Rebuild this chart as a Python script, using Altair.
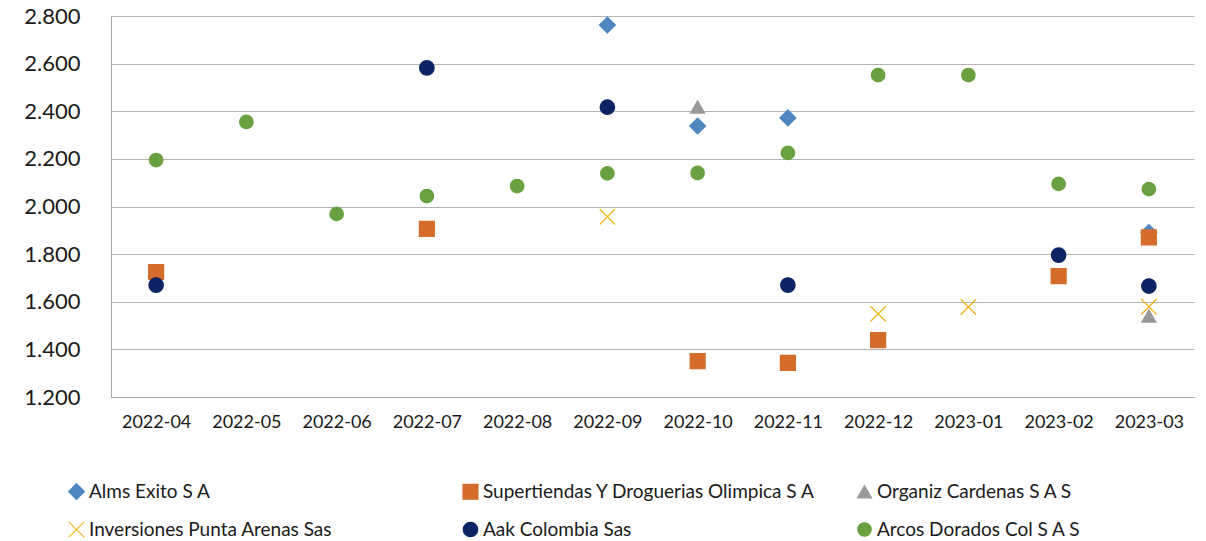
import altair as alt
import pandas as pd

months = ["2022-04", "2022-05", "2022-06", "2022-07", "2022-08", "2022-09",
          "2022-10", "2022-11", "2022-12", "2023-01", "2023-02", "2023-03"]

series_names = ["Alms Exito S A", "Supertiendas Y Droguerias Olimpica S A",
                "Organiz Cardenas S A S", "Inversiones Punta Arenas Sas",
                "Aak Colombia Sas", "Arcos Dorados Col S A S"]

alms = [None, None, None, None, None, 2762, 2338, 2372, None, None, None, 1891]
super_olimpica = [1725, None, None, 1906, None, None, 1351, 1343, 1439, None, 1708, 1870]
organiz = [None, None, None, None, None, None, 2418, None, None, None, None, 1540]
inversiones = [None, None, None, None, None, 1957, None, None, 1549, 1578, None, 1579]
aak = [1670, None, None, 2582, None, 2417, None, 1670, None, None, 1796, 1666]
arcos = [2195, 2355, 1969, 2044, 2086, 2139, 2141, 2225, 2552, 2552, 2095, 2073]

colors = ["#4E87C0", "#D46D2B", "#999999", "#F0B41C", "#0C2463", "#69A040"]
shapes = ["diamond", "square", "triangle-up", "M-1,-1L1,1M1,-1L-1,1", "circle", "circle"]
sizes = [250, 170, 196, 180, 215, 128]

rows = []
for name, vals in zip(series_names, [alms, super_olimpica, organiz, inversiones, aak, arcos]):
    for m, v in zip(months, vals):
        if v is not None:
            rows.append({"month": m, "value": v, "series": name})
df = pd.DataFrame(rows)
df["order"] = range(len(df))

# legend fills column by column (2 rows x 3 columns)
legend_order = [0, 3, 1, 4, 2, 5]
dom = [series_names[i] for i in legend_order]
col_rng = [colors[i] for i in legend_order]
shp_rng = [shapes[i] for i in legend_order]
size_rng = [sizes[i] for i in legend_order]

font = "Lato"
cscale = alt.Scale(domain=dom, range=col_rng)


def make_legend():
    return alt.Legend(title=None, orient="none", legendX=-44, legendY=466,
                      columns=3, gridAlign="all", columnPadding=38,
                      rowPadding=17, labelFontSize=19, labelFont=font,
                      labelColor="#1a1a1a", symbolSize=60, labelLimit=500,
                      symbolStrokeWidth=1.2, labelOffset=3)


chart = alt.Chart(df).mark_point(filled=True, opacity=1, strokeWidth=1.3).encode(
    x=alt.X("month:N", sort=months, title=None,
            scale=alt.Scale(domain=months, paddingInner=0, paddingOuter=0),
            axis=alt.Axis(labelAngle=0, ticks=False, domain=True, domainColor="#A6A6A6",
                          labelFontSize=18, labelPadding=16, labelFont=font,
                          labelColor="#1a1a1a", grid=False, bandPosition=0.5)),
    y=alt.Y("value:Q", title=None,
            scale=alt.Scale(domain=[1200, 2800], nice=False, zero=False),
            axis=alt.Axis(values=[1200, 1400, 1600, 1800, 2000, 2200, 2400, 2600, 2800],
                          labelExpr="replace(format(datum.value, ','), ',', '.')",
                          ticks=False, tickSize=0, labelPadding=31, labelFontSize=22,
                          labelFont=font, labelColor="#1a1a1a",
                          domain=True, domainColor="#A6A6A6",
                          grid=True, gridColor="#B3B3B3", gridWidth=1)),
    color=alt.Color("series:N", scale=cscale, sort=dom, legend=make_legend()),
    stroke=alt.Stroke("series:N", scale=cscale, sort=dom, legend=make_legend()),
    shape=alt.Shape("series:N", sort=dom,
                    scale=alt.Scale(domain=dom, range=shp_rng)),
    size=alt.Size("series:N", sort=dom,
                  scale=alt.Scale(domain=dom, range=size_rng), legend=None),
    order=alt.Order("order:Q"),
).properties(
    width=1083, height=381,
    autosize=alt.AutoSizeParams(type="none"),
    padding={"left": 103, "top": 8, "right": 4, "bottom": 142},
).configure_view(stroke=None)

chart.save("out.html", embed_options={"renderer": "svg", "actions": False})
